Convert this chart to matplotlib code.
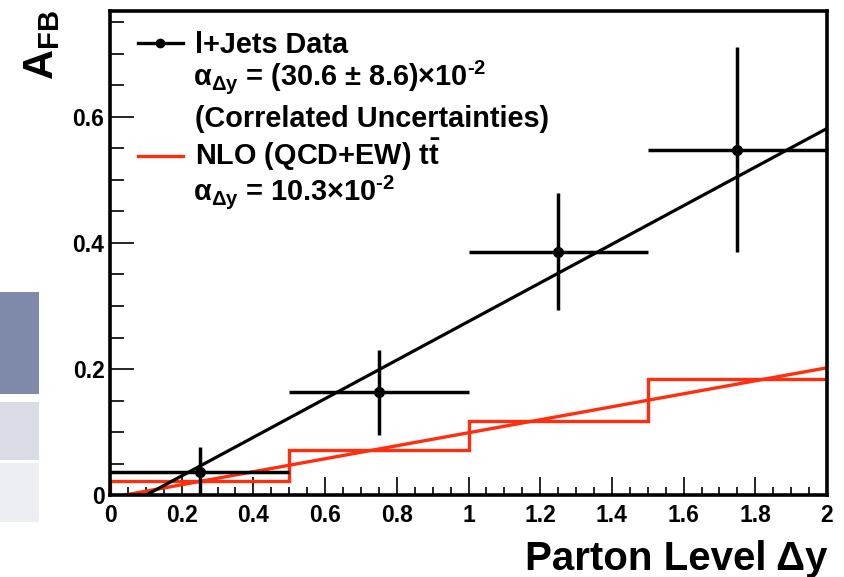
import numpy as np
import matplotlib
matplotlib.use("Agg")
import matplotlib.pyplot as plt
from matplotlib.lines import Line2D
from matplotlib.patches import Rectangle

# ---- data ----
bin_edges = [0.0, 0.5, 1.0, 1.5, 2.0]
data_afb = [0.037, 0.163, 0.386, 0.548]
data_err = [0.040, 0.067, 0.093, 0.163]
nlo_afb = [0.023, 0.072, 0.118, 0.185]

data_slope, data_offset = 0.306, -0.0306   # linear fit to data
nlo_slope, nlo_offset = 0.103, -0.0040     # linear NLO prediction

x_ticks = [0, 0.2, 0.4, 0.6, 0.8, 1.0, 1.2, 1.4, 1.6, 1.8, 2.0]
x_tick_labels = ["0", "0.2", "0.4", "0.6", "0.8", "1", "1.2", "1.4", "1.6", "1.8", "2"]
y_ticks = [0, 0.2, 0.4, 0.6]
y_tick_labels = ["0", "0.2", "0.4", "0.6"]

RED = "#ff2e0e"
W, H = 844, 577

plt.rcParams["font.family"] = ["Liberation Sans", "DejaVu Sans"]
plt.rcParams["font.weight"] = "bold"
plt.rcParams["mathtext.fontset"] = "custom"
plt.rcParams["mathtext.rm"] = "Liberation Sans:bold"
plt.rcParams["mathtext.it"] = "Liberation Sans:bold"
plt.rcParams["mathtext.bf"] = "Liberation Sans:bold"


def px(x, y):
    """Pixel position (from top-left) to figure fraction."""
    return x / W, 1 - y / H


fig = plt.figure(figsize=(W / 100, H / 100), dpi=100)

# page fragments at the left edge
for (x0, y0, x1, y1, c) in [(0, 292, 39, 394, "#7f8aab"),
                            (0, 402, 39, 460, "#d9dce5"),
                            (0, 463, 39, 522, "#eceef3")]:
    fx, fy = px(x0, y1)
    fig.add_artist(Rectangle((fx, fy), (x1 - x0) / W, (y1 - y0) / H,
                             transform=fig.transFigure, color=c, lw=0, zorder=0))

left, bottom = px(110, 495.2)
right, top = px(827, 11)
ax = fig.add_axes([left, bottom, right - left, top - bottom])

ax.set_xlim(0, 2)
ax.set_ylim(0, (495.2 - 11) / 630.8)

# NLO histogram and line
ax.stairs(nlo_afb, bin_edges, baseline=0, fill=False, color=RED, lw=2.4, zorder=2)
x0n = -nlo_offset / nlo_slope
xs = np.array([x0n, 2.0])
ax.plot(xs, nlo_slope * xs + nlo_offset, color=RED, lw=2.4, zorder=2)

# data fit line
x0d = -data_offset / data_slope
xs = np.array([x0d, 2.0])
ax.plot(xs, data_slope * xs + data_offset, color="black", lw=2.3, zorder=3)

# data points
centers = [(a + b) / 2 for a, b in zip(bin_edges[:-1], bin_edges[1:])]
half_w = [(b - a) / 2 for a, b in zip(bin_edges[:-1], bin_edges[1:])]
ax.errorbar(centers, data_afb, xerr=half_w, yerr=data_err, fmt="o", color="black",
            ms=7, elinewidth=2.5, capsize=0, zorder=4)

for s in ax.spines.values():
    s.set_linewidth(2.6)
    s.set_zorder(5)

ax.set_xticks(x_ticks)
ax.set_xticklabels(x_tick_labels)
ax.set_yticks(y_ticks)
ax.set_yticklabels(y_tick_labels)
ax.set_xticks(np.arange(0, 2.001, 0.05), minor=True)
ax.set_yticks(np.arange(0, 0.76, 0.05), minor=True)
ax.tick_params(axis="x", which="major", direction="in", length=13, width=1.2,
               labelsize=16.5, pad=6)
ax.tick_params(axis="x", which="minor", direction="in", length=6, width=1.2)
ax.tick_params(axis="y", which="major", direction="in", length=17, width=1.2,
               labelsize=16.5, pad=4)
ax.tick_params(axis="y", which="minor", direction="in", length=10, width=1.2)
for lab in ax.get_xticklabels() + ax.get_yticklabels():
    lab.set_fontweight("bold")

# axis titles
fig.text(*px(827, 570), "Parton Level Δy", ha="right", va="baseline",
         fontsize=29, fontweight="bold")
fig.text(*px(53, 10), r"A$_{\mathregular{FB}}$", rotation=90, ha="right", va="baseline",
         fontsize=30, fontweight="bold", rotation_mode="anchor")

# legend
fig.add_artist(Line2D([138 / W, 183 / W], [1 - 43 / H] * 2, transform=fig.transFigure,
                      color="black", lw=2.4))
fig.add_artist(Line2D([160 / W], [1 - 43 / H], transform=fig.transFigure,
                      color="black", marker="o", ms=6))
fig.add_artist(Line2D([138 / W, 183 / W], [1 - 156 / H] * 2, transform=fig.transFigure,
                      color=RED, lw=2.4))

legend_rows = [
    (195, 53, "l+Jets Data"),
    (193, 85, "α$_{\\Delta y}$ = (30.6 ± 8.6)×10$^{\u20102}$"),
    (195, 127, "(Correlated Uncertainties)"),
    (195, 165, r"NLO (QCD+EW) t$\bar{\mathrm{t}}$"),
    (193, 200, "α$_{\\Delta y}$ = 10.3×10$^{\u20102}$"),
]
for x, y, s in legend_rows:
    fig.text(*px(x, y), s, ha="left", va="baseline", fontsize=20.8, fontweight="bold")

fig.savefig("out.png", dpi=100)
